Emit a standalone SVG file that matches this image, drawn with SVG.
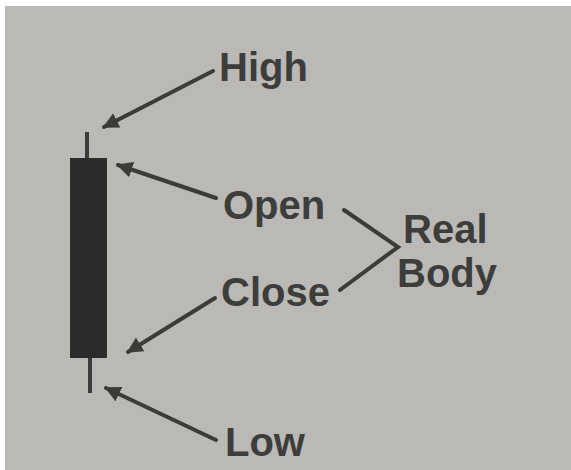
<svg xmlns="http://www.w3.org/2000/svg" width="571" height="470" viewBox="0 0 571 470">
  <defs>
    <style>
      .lbl { font-family: "Liberation Sans", Arial, sans-serif; font-weight: bold; font-size: 40px; fill: #3d3d3c; }
      .ln { stroke: #3b3b3a; stroke-width: 4; fill: none; stroke-linecap: round; }
      .arr { marker-end: url(#ah); }
    </style>
    <marker id="ah" viewBox="0 0 10 10" refX="9" refY="5" markerWidth="4" markerHeight="4" orient="auto" markerUnits="strokeWidth">
      <path d="M0,0 L10,5 L0,10 Z" fill="#3b3b3a"/>
    </marker>
  </defs>
  <rect x="0" y="0" width="571" height="470" fill="#ffffff"/>
  <rect x="5" y="6" width="566" height="464" fill="#bbb9b5"/>

  <g id="candle">
    <line x1="87" y1="132" x2="87" y2="160" stroke="#3a3b3b" stroke-width="4"/>
    <line x1="90" y1="356" x2="90" y2="393" stroke="#3a3b3b" stroke-width="4"/>
    <rect x="70" y="158" width="37" height="200" fill="#2a2c2c"/>
  </g>

  <g id="connectors">
    <line class="ln arr" x1="213" y1="71" x2="104" y2="127"/>
    <line class="ln arr" x1="216" y1="198" x2="118" y2="165"/>
    <line class="ln arr" x1="215" y1="298" x2="128" y2="352"/>
    <line class="ln arr" x1="216" y1="440" x2="106" y2="388"/>
    <polyline class="ln" points="344,210 398,247 340,290"/>
  </g>

  <g id="high"><text class="lbl" x="219" y="81">High</text></g>
  <g id="open"><text class="lbl" x="223" y="219">Open</text></g>
  <g id="close"><text class="lbl" x="221" y="306">Close</text></g>
  <g id="low"><text class="lbl" x="225" y="456">Low</text></g>
  <g id="realbody">
    <text class="lbl" x="403" y="243" font-size="38">Real</text>
    <text class="lbl" x="397" y="287" font-size="38">Body</text>
  </g>
</svg>
